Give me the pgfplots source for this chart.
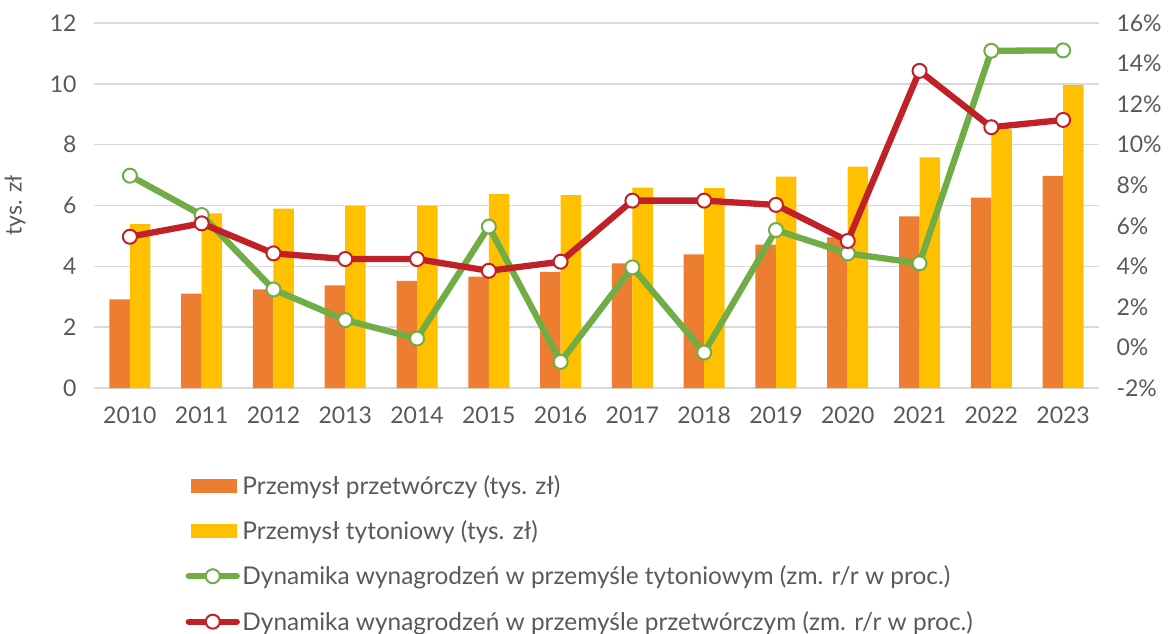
\documentclass[border=0pt]{standalone}
\usepackage{fontspec}
\setmainfont{Lato}
\usepackage{pgfplots}
\pgfplotsset{compat=1.18}
\definecolor{cOrange}{HTML}{ED7D31}
\definecolor{cYellow}{HTML}{FFC000}
\definecolor{cGreen}{HTML}{70AD47}
\definecolor{cRed}{RGB}{192,32,38}
\definecolor{cGrid}{HTML}{D9D9D9}
\definecolor{cText}{HTML}{595959}
\newcommand{\tf}{\fontsize{23}{27}\selectfont}
\newcommand{\lf}{\fontsize{24.4}{28}\selectfont}
\begin{document}
\begin{tikzpicture}
\begin{axis}[
  scale only axis, width=1005pt, height=365pt,
  xmin=-0.5, xmax=13.5, ymin=0, ymax=12,
  ybar=0pt, bar width=20.5pt,
  xtick={0,...,13},
  xticklabels={2010,2011,2012,2013,2014,2015,2016,2017,2018,2019,2020,2021,2022,2023},
  ytick={0,2,...,12}, yticklabels={0,2,4,6,8,10,12},
  major tick length=0pt,
  axis line style={draw=none},
  ymajorgrids, grid style={cGrid, line width=1.5pt},
  tick label style={font=\tf, text=cText},
  yticklabel style={xshift=-14pt},
  xticklabel style={yshift=-15pt},
  ylabel={tys. zł},
  ylabel style={font=\tf, text=cText, at={(axis description cs:-0.0786,0.5)}, anchor=center},
]
\addplot[fill=cOrange, draw=none] coordinates {
  (0,2.91) (1,3.10) (2,3.24) (3,3.37) (4,3.52) (5,3.66) (6,3.82)
  (7,4.10) (8,4.39) (9,4.71) (10,4.95) (11,5.64) (12,6.26) (13,6.97)};
\addplot[fill=cYellow, draw=none] coordinates {
  (0,5.39) (1,5.74) (2,5.90) (3,5.98) (4,6.00) (5,6.38) (6,6.34)
  (7,6.59) (8,6.57) (9,6.95) (10,7.28) (11,7.58) (12,8.50) (13,9.96)};
\end{axis}
\begin{axis}[
  scale only axis, width=1005pt, height=365pt,
  xmin=-0.5, xmax=13.5, ymin=-2, ymax=16,
  hide x axis,
  axis y line*=right, axis line style={draw=none}, major tick length=0pt,
  ytick={-2,0,...,16},
  yticklabels={-2\%,0\%,2\%,4\%,6\%,8\%,10\%,12\%,14\%,16\%},
  yticklabel style={font=\tf, text=cText, xshift=14pt},
  legend cell align=left,
  legend style={draw=none, fill=none, font=\lf, text=cText,
    at={(axis description cs:0.088,-0.226)}, anchor=north west, row sep=20pt,
    nodes={inner sep=2.5pt}},
  legend image code/.code={\draw[mark repeat=2,mark phase=2,#1] plot coordinates {(0pt,0pt) (24pt,0pt) (48pt,0pt)};},
]
\addlegendimage{legend image code/.code={\fill[cOrange] (2pt,-6.3pt) rectangle (47pt,6.3pt);}}
\addlegendentry{Przemysł przetwórczy (tys. zł)}
\addlegendimage{legend image code/.code={\fill[cYellow] (2pt,-6.3pt) rectangle (47pt,6.3pt);}}
\addlegendentry{Przemysł tytoniowy (tys. zł)}
\addplot[cGreen, line width=6.3pt, line cap=round, mark=*, mark size=7pt, mark options={fill=white, line width=2pt}] coordinates {
  (0,8.47) (1,6.53) (2,2.86) (3,1.35) (4,0.44) (5,5.96) (6,-0.71)
  (7,3.95) (8,-0.25) (9,5.79) (10,4.64) (11,4.15) (12,14.63) (13,14.65)};
\addlegendentry{Dynamika wynagrodzeń w przemyśle tytoniowym (zm. r/r w proc.)}
\addplot[cRed, line width=6.3pt, line cap=round, mark=*, mark size=7pt, mark options={fill=white, line width=2pt}] coordinates {
  (0,5.46) (1,6.12) (2,4.64) (3,4.36) (4,4.36) (5,3.78) (6,4.23)
  (7,7.24) (8,7.24) (9,7.03) (10,5.25) (11,13.64) (12,10.86) (13,11.22)};
\addlegendentry{Dynamika wynagrodzeń w przemyśle przetwórczym (zm. r/r w proc.)}
\end{axis}
\pgfresetboundingbox
\path (-94pt,-245pt) rectangle (1079pt,388pt);
\end{tikzpicture}
\end{document}
